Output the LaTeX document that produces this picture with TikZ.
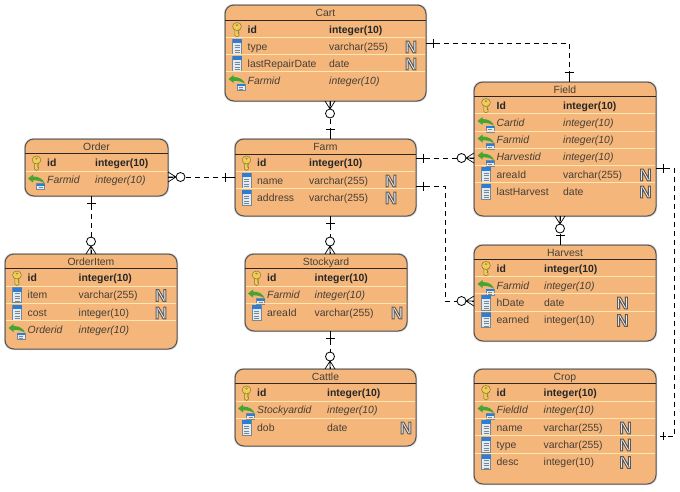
\documentclass[tikz,border=0pt]{standalone}
\usepackage{fontspec}
\setmainfont{Liberation Sans}
\usetikzlibrary{calc}
\definecolor{bodyor}{RGB}{244,182,122}
\definecolor{sepyel}{RGB}{255,232,176}
\definecolor{edgegr}{RGB}{85,85,85}
\definecolor{inkdk}{RGB}{45,40,35}
\definecolor{inkmd}{RGB}{70,62,55}
\definecolor{keygold}{RGB}{238,205,90}
\definecolor{keyedge}{RGB}{140,115,40}
\definecolor{colblue}{RGB}{45,125,215}
\definecolor{colbody}{RGB}{226,234,242}
\definecolor{coledge}{RGB}{120,135,150}
\definecolor{fkgreen}{RGB}{70,165,50}
\newcount\rowno
\newcommand\nextname{\global\advance\rowno by 1\relax}
\newcommand\keyicon[2]{\begin{scope}[shift={(#1,#2)}]
  \fill[keygold,draw=keyedge,line width=.5pt] (-2.1,-2) -- (-2.1,6) -- (0,7.5) -- (2.1,6) -- (2.1,4.5) -- (1,4) -- (2.1,3) -- (1,2) -- (2.1,1) -- (2.1,-2) -- cycle;
  \fill[keygold,draw=keyedge,line width=.5pt] (0,-3) ellipse (4.4 and 4);
  \fill[bodyor!30!keyedge] (0,-4.4) ellipse (1.4 and .9);
\end{scope}}
\newcommand\colicon[2]{\begin{scope}[shift={(#1,#2)}]
  \fill[colbody,draw=coledge,line width=.5pt] (-4.5,-7.5) rectangle (4.5,7.5);
  \fill[colblue] (-4.5,-7.5) rectangle (4.5,-3.5);
  \foreach \yy in {-1.5,1,3.5,6}{\draw[coledge,line width=.5pt] (-2.5,\yy) -- (2.5,\yy);}
\end{scope}}
\newcommand\fkicon[2]{\begin{scope}[shift={(#1,#2)}]
  \fill[colbody,draw=coledge,line width=.4pt] (.5,1.5) rectangle (8.5,7.5);
  \fill[colblue] (.5,1.5) rectangle (8.5,3.5);
  \foreach \yy in {5,6.8}{\draw[coledge,line width=.4pt] (2.5,\yy) -- (6.5,\yy);}
  \fill[fkgreen] (-8,-3.5) -- (-3,-7.5) -- (-3,-5.5) .. controls (3,-5.5) and (7,-3) .. (8.5,1.2) .. controls (5,-1) and (1,-2) .. (-3,-1.5) -- (-3,0.5) -- cycle;
\end{scope}}
\newcommand\nullmark[2]{\nextname\node[nulltext] (r\the\rowno) at (#1,#2) {\special{pdf:code 2 Tr 1 w 0.35 G}N\special{pdf:code 0 Tr 0 G}};}
% #1 name, #2 title, #3-#6 box, #7 rule y
\newcommand\entitybox[7]{
  \fill[black,opacity=.18,rounded corners=9pt] (#3-1,#4-1) rectangle (#5+1,#6+1);
  \node[entity,minimum width={(#5-#3)*1pt},minimum height={(#6-#4)*1pt}] (#1) at ({(#3+#5)/2},{(#4+#6)/2}) {};
  \node[titletext] (#1t) at ({(#3+#5)/2},{#4+11}) {#2};
  \draw[inkdk,line width=.8pt] (#3,#7) -- (#5,#7);
  \gdef\lx{#3}\gdef\rx{#5}
}
% key row: y name type
\newcommand\rowk[3]{
  \keyicon{\nx-10.5}{#1}
  \nextname\node[celltext,font=\fontsize{10.4}{12}\selectfont\bfseries,text=black!85] (r\the\rowno) at (\nx,#1+3.7) {#2};
  \nextname\node[celltext,font=\fontsize{10.4}{12}\selectfont\bfseries,text=black!85] (r\the\rowno) at (\tx,#1+3.7) {#3};
}
% foreign key row
\newcommand\rowf[3]{
  \draw[sepline] (\lx+.6,#1-8.6) -- (\rx-.6,#1-8.6);
  \fkicon{\nx-11}{#1+2}
  \nextname\node[celltext,font=\fontsize{10.4}{12}\selectfont\itshape] (r\the\rowno) at (\nx,#1+3.7) {#2};
  \nextname\node[celltext,font=\fontsize{10.4}{12}\selectfont\itshape] (r\the\rowno) at (\tx,#1+3.7) {#3};
}
% plain column row
\newcommand\rowc[3]{
  \draw[sepline] (\lx+.6,#1-8.6) -- (\rx-.6,#1-8.6);
  \colicon{\nx-10.5}{#1}
  \nextname\node[celltext] (r\the\rowno) at (\nx,#1+3.7) {#2};
  \nextname\node[celltext] (r\the\rowno) at (\tx,#1+3.7) {#3};
  \nullmark{\Nx}{#1+.5}
}
\tikzset{
  x=1pt,y=-1pt,
  entity/.style={draw=edgegr,fill=bodyor,line width=1pt,rounded corners=9pt,inner sep=0pt,outer sep=0pt},
  titletext/.style={anchor=base,font=\fontsize{10.4}{12}\selectfont,text=inkmd,inner sep=0pt},
  celltext/.style={anchor=base west,inner sep=0pt,text=inkmd,font=\fontsize{10.4}{12}\selectfont},
  nulltext/.style={inner sep=0pt,text=white,font=\fontsize{17}{17}\selectfont\bfseries},
  sepline/.style={sepyel,line width=1pt},
  conn/.style={draw=black,line width=.7pt,dash pattern=on 5pt off 4pt},
  manyend/.pic={
    \draw[black,line width=.7pt] (0,0) -- (8,0) (0,-5) -- (8,0) (0,5) -- (8,0);
    \draw[black,line width=.8pt,fill=white] (12.5,0) circle (4.5);
  },
  oneend/.pic={
    \draw[black,line width=.7pt] (0,0) -- (9,0) (7.5,-4.5) -- (7.5,4.5);
  },
  onefar/.pic={
    \draw[black,line width=.7pt] (0,0) -- (11,0) (10,-4.5) -- (10,4.5);
  },
  oneloose/.pic={
    \draw[black,line width=.7pt] (0,0) -- (6,0) (3,-4) -- (3,4);
  },
}
\begin{document}
\begin{tikzpicture}
\useasboundingbox (0,0) rectangle (680,491);
\fill[white] (0,0) rectangle (680,491);

%% entities
\entitybox{cart}{Cart}{225}{5}{426}{101}{20}
\def\nx{247.5}\def\tx{329}\def\Nx{411}
\rowk{29.5}{id}{integer(10)}
\rowc{46.5}{type}{varchar(255)}
\rowc{63.5}{lastRepairDate}{date}
\rowf{80.5}{Farmid}{integer(10)}

\entitybox{farm}{Farm}{235}{139}{416}{216}{154}
\def\nx{257}\def\tx{309}\def\Nx{391}
\rowk{163}{id}{integer(10)}
\rowc{180.5}{name}{varchar(255)}
\rowc{197.5}{address}{varchar(255)}

\entitybox{order}{Order}{25}{139}{168}{196}{153.5}
\def\nx{47}\def\tx{95}
\rowk{163}{id}{integer(10)}
\rowf{180}{Farmid}{integer(10)}

\entitybox{orderitem}{OrderItem}{5}{254}{177}{349}{268}
\def\nx{27.5}\def\tx{78.5}\def\Nx{161}
\rowk{278}{id}{integer(10)}
\rowc{295}{item}{varchar(255)}
\rowc{312.5}{cost}{integer(10)}
\rowf{329.5}{Orderid}{integer(10)}

\entitybox{stockyard}{Stockyard}{245}{254}{407}{331}{268.5}
\def\nx{267}\def\tx{314.5}\def\Nx{397}
\rowk{278}{id}{integer(10)}
\rowf{295}{Farmid}{integer(10)}
\rowc{312.5}{areaId}{varchar(255)}

\entitybox{cattle}{Cattle}{235}{369}{416}{446}{383.5}
\def\nx{257}\def\tx{327}\def\Nx{406}
\rowk{393}{id}{integer(10)}
\rowf{410}{Stockyardid}{integer(10)}
\rowc{427.5}{dob}{date}

\entitybox{field}{Field}{474}{82}{656}{216}{96.5}
\def\nx{496.5}\def\tx{563}\def\Nx{645.5}
\rowk{105.5}{Id}{integer(10)}
\rowf{122.5}{Cartid}{integer(10)}
\rowf{140}{Farmid}{integer(10)}
\rowf{157}{Harvestid}{integer(10)}
\rowc{174.5}{areaId}{varchar(255)}
\rowc{191.5}{lastHarvest}{date}

\entitybox{harvest}{Harvest}{474}{245}{656}{341}{259}
\def\nx{496.5}\def\tx{544}\def\Nx{622.5}
\rowk{268.5}{id}{integer(10)}
\rowf{285.5}{Farmid}{integer(10)}
\rowc{302.5}{hDate}{date}
\rowc{320}{earned}{integer(10)}

\entitybox{crop}{Crop}{474}{369}{656}{484}{383.5}
\def\nx{496.5}\def\tx{543.5}\def\Nx{625.5}
\rowk{392.5}{id}{integer(10)}
\rowf{410}{FieldId}{integer(10)}
\rowc{427.5}{name}{varchar(255)}
\rowc{444.5}{type}{varchar(255)}
\rowc{462}{desc}{integer(10)}

%% connector attachment points on the entity borders
\coordinate (cartE) at (cart.east |- 0,43);
\coordinate (fieldN) at (field.north -| 569,0);
\coordinate (farmFieldA) at (farm.east |- 0,158);
\coordinate (farmFieldB) at (field.west |- 0,158);
\coordinate (farmHarvA) at (farm.east |- 0,186);
\coordinate (farmHarvB) at (harvest.west |- 0,301);
\coordinate (fieldE) at (field.east |- 0,168);
\coordinate (cropE) at ([xshift=4pt]crop.east |- 0,436);
\coordinate (orderE) at (order.east |- 0,177);
\coordinate (farmW) at (farm.west |- 0,177);
\coordinate (orderS) at (order.south -| 91,0);
\coordinate (itemN) at (orderitem.north -| 91,0);
\coordinate (cartS) at (cart.south -| 330,0);
\coordinate (farmN) at (farm.north -| 330,0);
\coordinate (farmS) at (farm.south -| 330,0);
\coordinate (stockN) at (stockyard.north -| 330,0);
\coordinate (stockS) at (stockyard.south -| 330,0);
\coordinate (cattleN) at (cattle.north -| 330,0);
\coordinate (fieldS) at (field.south -| 560,0);
\coordinate (harvN) at (harvest.north -| 560,0);

\draw[conn] (cartS) -- (farmN);
\draw[conn] (cartE) -| (fieldN);
\draw[conn] (farmFieldA) -- (farmFieldB);
\draw[conn] (farmHarvA) -- (445,186) |- (farmHarvB);
\draw[conn] (fieldS) -- (harvN);
\draw[conn] (fieldE) -- (674.5,168) |- (cropE);
\draw[conn] (orderE) -- (farmW);
\draw[conn] (orderS) -- (itemN);
\draw[conn] (farmS) -- (stockN);
\draw[conn] (stockS) -- (cattleN);

%% relationship ends
\pic[rotate=-90] at (cartS) {manyend};
\pic[rotate=90] at (farmN) {onefar};
\pic at (cartE) {oneend};
\pic[rotate=90] at (fieldN) {onefar};
\pic at (farmFieldA) {oneend};
\pic[rotate=180] at (farmFieldB) {manyend};
\pic at (farmHarvA) {oneend};
\pic[rotate=180] at (farmHarvB) {manyend};
\pic[rotate=-90] at (fieldS) {manyend};
\pic[rotate=90] at (harvN) {onefar};
\pic at (fieldE) {oneend};
\pic at (cropE) {oneloose};
\pic at (orderE) {manyend};
\pic[rotate=180] at (farmW) {onefar};
\pic[rotate=-90] at (orderS) {oneend};
\pic[rotate=90] at (itemN) {manyend};
\pic[rotate=-90] at (farmS) {oneend};
\pic[rotate=90] at (stockN) {manyend};
\pic[rotate=-90] at (stockS) {oneend};
\pic[rotate=90] at (cattleN) {manyend};
\end{tikzpicture}
\end{document}
